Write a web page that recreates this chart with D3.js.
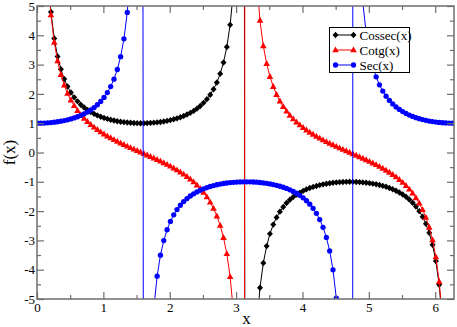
<!DOCTYPE html>
<html>
<head>
<meta charset="utf-8">
<script src="https://cdn.jsdelivr.net/npm/d3@7"></script>
<style>
  body { margin: 0; background: #fff; }
  svg { display: block; }
  text { font-family: "Liberation Serif", "DejaVu Serif", serif; fill: #000; }
</style>
</head>
<body>
<div class="container"></div>
<script>
// sample points (step 0.05, starting at 0.01)
const xs = [0.01,0.06,0.11,0.16,0.21,0.26,0.31,0.36,0.41,0.46,0.51,0.56,0.61,0.66,0.71,0.76,0.81,0.86,0.91,0.96,
  1.01,1.06,1.11,1.16,1.21,1.26,1.31,1.36,1.41,1.46,1.51,1.56,1.61,1.66,1.71,1.76,1.81,1.86,1.91,1.96,
  2.01,2.06,2.11,2.16,2.21,2.26,2.31,2.36,2.41,2.46,2.51,2.56,2.61,2.66,2.71,2.76,2.81,2.86,2.91,2.96,
  3.01,3.06,3.11,3.16,3.21,3.26,3.31,3.36,3.41,3.46,3.51,3.56,3.61,3.66,3.71,3.76,3.81,3.86,3.91,3.96,
  4.01,4.06,4.11,4.16,4.21,4.26,4.31,4.36,4.41,4.46,4.51,4.56,4.61,4.66,4.71,4.76,4.81,4.86,4.91,4.96,
  5.01,5.06,5.11,5.16,5.21,5.26,5.31,5.36,5.41,5.46,5.51,5.56,5.61,5.66,5.71,5.76,5.81,5.86,5.91,5.96,
  6.01,6.06,6.11,6.16,6.21,6.26];

const cossec = [100.0,16.678,9.109,6.277,4.797,3.890,3.278,2.839,2.509,2.2525,2.0484,1.8826,1.7456,1.6310,1.5341,1.4516,
  1.3807,1.3195,1.2666,1.2207,1.1809,1.1463,1.1164,1.0908,1.0688,1.0503,1.0350,1.0226,1.0131,1.0062,1.0019,1.0001,
  1.0008,1.0040,1.0098,1.0182,1.0293,1.0433,1.0604,1.0808,1.1049,1.1329,1.1653,1.2028,1.2460,1.2958,1.3532,1.4196,
  1.4969,1.5872,1.6937,1.8203,1.9727,2.1589,2.3905,2.6853,3.0717,3.5986,4.3567,5.5371,7.6214,12.270,31.646,
  -54.35,-14.631,-8.466,-5.966,-4.615,-3.771,-3.194,-2.777,-2.461,-2.215,-2.018,-1.858,-1.725,-1.614,-1.519,-1.439,
  -1.370,-1.310,-1.2585,-1.2136,-1.1747,-1.1410,-1.1118,-1.0868,-1.0655,-1.0475,-1.0327,-1.0208,-1.0117,-1.0053,-1.0014,-1.0000,
  -1.0011,-1.0048,-1.0110,-1.0199,-1.0315,-1.0460,-1.0636,-1.0846,-1.1093,-1.1380,-1.1713,-1.2096,-1.2539,-1.3048,-1.3637,-1.4318,
  -1.5111,-1.6039,-1.7134,-1.8439,-2.0014,-2.1943,-2.4350,-2.7427,-3.1486,-3.7063,-4.5177,-5.8028,-8.138,-13.674,-43.08];

const cotg = [100.0,16.648,9.054,6.197,4.692,3.759,3.122,2.657,2.301,2.0184,1.7877,1.5950,1.4308,1.2885,1.1634,1.0521,
  0.9520,0.8609,0.7774,0.7001,0.6281,0.5604,0.4964,0.4356,0.3773,0.3212,0.2669,0.2140,0.1622,0.1113,0.0609,0.0108,
  -0.0392,-0.0894,-0.1401,-0.1915,-0.2439,-0.2976,-0.3528,-0.4101,-0.4698,-0.5324,-0.5983,-0.6684,-0.7433,-0.8240,-0.9116,-1.0076,
  -1.1138,-1.2326,-1.3669,-1.5210,-1.7005,-1.9134,-2.1713,-2.4921,-2.9044,-3.4568,-4.2404,-5.4460,-7.5554,-12.229,-31.63,
  54.34,14.597,8.407,5.882,4.506,3.636,3.034,2.591,2.249,1.9765,1.7530,1.5656,1.4055,1.2664,1.1439,1.0346,
  0.9361,0.8464,0.7640,0.6877,0.6164,0.5494,0.4860,0.4256,0.3677,0.3120,0.2579,0.2052,0.1536,0.1028,0.0525,0.0024,
  -0.0476,-0.0979,-0.1487,-0.2002,-0.2528,-0.3067,-0.3623,-0.4200,-0.4801,-0.5432,-0.6098,-0.6806,-0.7564,-0.8382,-0.9271,-1.0247,
  -1.1329,-1.2540,-1.3913,-1.5492,-1.7337,-1.9532,-2.2202,-2.5539,-2.9856,-3.5689,-4.4057,-5.7160,-8.0763,-13.638,-43.07];

const sec = [1.0000,1.0018,1.0061,1.0129,1.0225,1.0348,1.0501,1.0685,1.0904,1.1160,1.1458,1.1803,1.2200,1.2658,1.3186,1.3796,
  1.4503,1.5327,1.6293,1.7436,1.8802,2.0455,2.2489,2.5041,2.8327,3.2699,3.8782,4.7792,6.246,9.044,16.456,92.6,
  -25.52,-11.226,-7.207,-5.317,-4.221,-3.506,-3.005,-2.636,-2.352,-2.128,-1.948,-1.800,-1.676,-1.573,-1.484,-1.409,
  -1.344,-1.288,-1.239,-1.197,-1.160,-1.128,-1.101,-1.0775,-1.0576,-1.0410,-1.0274,-1.0167,-1.0087,-1.0033,-1.0005,
  -1.0002,-1.0024,-1.0071,-1.0144,-1.0243,-1.0371,-1.0529,-1.0719,-1.0944,-1.1207,-1.1513,-1.1866,-1.2273,-1.2742,-1.3283,-1.3908,
  -1.4633,-1.5479,-1.6472,-1.7649,-1.9057,-2.0768,-2.2877,-2.5534,-2.8973,-3.3579,-4.0045,-4.9746,-6.5876,-9.783,-19.088,-417.4,
  21.017,10.262,6.800,5.094,4.080,3.410,2.936,2.583,2.311,2.095,1.921,1.777,1.658,1.557,1.471,1.397,
  1.334,1.279,1.232,1.190,1.154,1.123,1.097,1.074,1.055,1.0385,1.0254,1.0152,1.0076,1.0027,1.0003];

const seriesNames = ["Cossec(x)", "Cotg(x)", "Sec(x)"];
const xMajor = [0, 1, 2, 3, 4, 5, 6];
const xMinor = [0.5, 1.5, 2.5, 3.5, 4.5, 5.5];
const yMajor = [-5, -4, -3, -2, -1, 0, 1, 2, 3, 4, 5];
const yMinor = [-4.5, -3.5, -2.5, -1.5, -0.5, 0.5, 1.5, 2.5, 3.5, 4.5];

const width = 457, height = 327;
const margin = {top: 6, right: 3, bottom: 28, left: 37};
const iw = width - margin.left - margin.right;
const ih = height - margin.top - margin.bottom;

const svg = d3.select(".container")
    .append("svg")
    .attr("width", width)
    .attr("height", height);

const x = d3.scaleLinear().domain([0, 2 * Math.PI]).range([margin.left, margin.left + iw]);
const y = d3.scaleLinear().domain([-5, 5]).range([margin.top + ih, margin.top]);

const series = [
    {name: seriesNames[0], values: cossec, color: "#000000", shape: "diamond"},
    {name: seriesNames[1], values: cotg, color: "#ff0000", shape: "triangle"},
    {name: seriesNames[2], values: sec, color: "#0000ff", shape: "circle"}
];

const markerPath = shape => {
    if (shape === "diamond") return "M0,-3.2L3,0L0,3.2L-3,0Z";
    if (shape === "triangle") return "M0,-3.6L3.3,2.3L-3.3,2.3Z";
    return d3.symbol(d3.symbolCircle, 22)();
};

svg.append("clipPath").attr("id", "clip")
    .append("rect")
    .attr("x", margin.left).attr("y", margin.top)
    .attr("width", iw).attr("height", ih);

const plot = svg.append("g").attr("clip-path", "url(#clip)");
const line = d3.line().x((d, i) => x(xs[i])).y(d => y(d));

series.forEach(s => {
    const g = plot.append("g");
    g.append("path")
        .attr("d", line(s.values))
        .attr("fill", "none")
        .attr("stroke", s.color)
        .attr("stroke-width", 1);
    g.selectAll("path.m")
        .data(s.values.map((v, i) => [xs[i], v]).filter(d => d[1] >= -5.3 && d[1] <= 5.3))
        .enter()
        .append("path")
        .attr("class", "m")
        .attr("d", markerPath(s.shape))
        .attr("transform", d => `translate(${x(d[0])},${y(d[1])})`)
        .attr("fill", s.color);
});

// axes (ticks point inward on all four sides)
const axisColor = "#6e6e6e";
const fmt = d => String(d);
const addAxis = (axis, tx, ty, labels) => {
    const g = svg.append("g").attr("transform", `translate(${tx},${ty})`).call(axis);
    g.select(".domain").remove();
    g.selectAll("line").attr("stroke", axisColor).attr("stroke-width", 1.2);
    if (!labels) g.selectAll("text").remove();
    else g.selectAll("text").attr("font-size", 13).attr("font-family", "Liberation Serif");
    return g;
};
const bottomY = margin.top + ih, topY = margin.top;
const leftX = margin.left, rightX = margin.left + iw;

addAxis(d3.axisBottom(x).tickValues(xMajor).tickSizeInner(-7).tickSizeOuter(0).tickPadding(4).tickFormat(fmt), 0, bottomY, true);
addAxis(d3.axisBottom(x).tickValues(xMinor).tickSizeInner(-4).tickSizeOuter(0).tickFormat(""), 0, bottomY, false);
addAxis(d3.axisTop(x).tickValues(xMajor).tickSizeInner(-7).tickSizeOuter(0).tickFormat(""), 0, topY, false);
addAxis(d3.axisTop(x).tickValues(xMinor).tickSizeInner(-4).tickSizeOuter(0).tickFormat(""), 0, topY, false);
addAxis(d3.axisLeft(y).tickValues(yMajor).tickSizeInner(-7).tickSizeOuter(0).tickPadding(2).tickFormat(fmt), leftX, 0, true);
addAxis(d3.axisLeft(y).tickValues(yMinor).tickSizeInner(-4).tickSizeOuter(0).tickFormat(""), leftX, 0, false);
addAxis(d3.axisRight(y).tickValues(yMajor).tickSizeInner(-7).tickSizeOuter(0).tickFormat(""), rightX, 0, false);
addAxis(d3.axisRight(y).tickValues(yMinor).tickSizeInner(-4).tickSizeOuter(0).tickFormat(""), rightX, 0, false);

svg.append("rect")
    .attr("x", leftX).attr("y", topY)
    .attr("width", iw).attr("height", ih)
    .attr("fill", "none")
    .attr("stroke", axisColor)
    .attr("stroke-width", 1.5);

// axis titles
svg.append("text")
    .attr("x", x(Math.PI) + 1).attr("y", 324)
    .attr("text-anchor", "middle")
    .attr("font-size", 17)
    .text("x");
svg.append("text")
    .attr("transform", `translate(15,${y(0)}) rotate(-90)`)
    .attr("text-anchor", "middle")
    .attr("font-size", 17)
    .text("f(x)");

// legend
const legend = svg.append("g").attr("transform", "translate(329.5,27.5)");
legend.append("rect")
    .attr("width", 80).attr("height", 45)
    .attr("fill", "#fff")
    .attr("stroke", "#000")
    .attr("stroke-width", 1);
series.forEach((s, i) => {
    const ly = 7.5 + i * 15;
    legend.append("line")
        .attr("x1", 6).attr("x2", 24)
        .attr("y1", ly).attr("y2", ly)
        .attr("stroke", s.color).attr("stroke-width", 1);
    [6, 24].forEach(mx => legend.append("path")
        .attr("d", markerPath(s.shape))
        .attr("transform", `translate(${mx},${ly})`)
        .attr("fill", s.color));
    legend.append("text")
        .attr("x", 30).attr("y", ly + 4.5)
        .attr("font-size", 13)
        .text(s.name);
});
</script>
</body>
</html>
